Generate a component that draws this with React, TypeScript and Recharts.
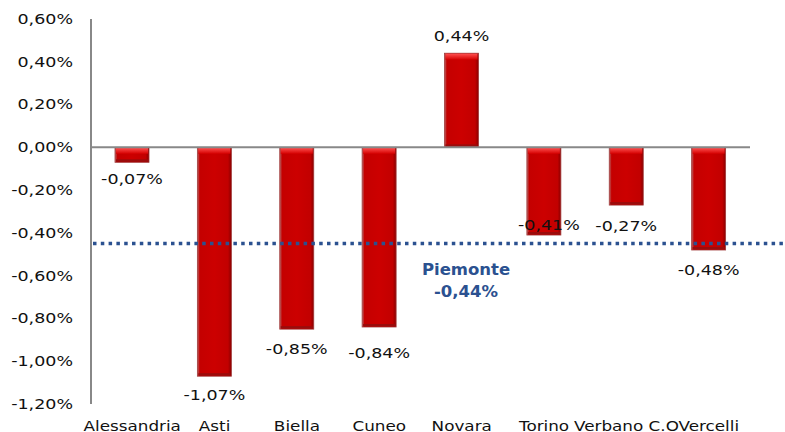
import React from 'react';
import { BarChart, Bar, XAxis, YAxis, ReferenceLine, LabelList } from 'recharts';

const provinces = ['Alessandria', 'Asti', 'Biella', 'Cuneo', 'Novara', 'Torino', 'Verbano C.O', 'Vercelli'];
const changes = [-0.07, -1.07, -0.85, -0.84, 0.44, -0.41, -0.27, -0.48];
const regionName = 'Piemonte';
const regionChange = -0.44;
const yTicks = [-1.2, -1.0, -0.8, -0.6, -0.4, -0.2, 0, 0.2, 0.4, 0.6];

const data = provinces.map((name, i) => ({ name, value: changes[i] }));

const FONT = '"DejaVu Sans", Verdana, sans-serif';
const SX = 1.25;
const fmt = (v: number) => v.toFixed(2).replace('.', ',') + '%';

// label gap below/above bar end (style nudges, per bar)
const labelGap = [17, 19, 20, 26, 17, -10, 21, 20];
const labelDx = [0, 0, 0, 0, 0, 5, 0, 0];

const STxt = ({ x, y, anchor, children, fill = '#111', size = 14, weight = 400, sx = SX, baseline = 'central' }: any) => (
  <text
    transform={`translate(${x},${y}) scale(${sx},1)`}
    x={0}
    y={0}
    textAnchor={anchor}
    dominantBaseline={baseline}
    fontFamily={FONT}
    fontSize={size}
    fontWeight={weight}
    fill={fill}
  >
    {children}
  </text>
);

const YTick = (props: any) => {
  const { x, y, payload } = props;
  return (
    <STxt x={x - 18} y={y} anchor="end">
      {fmt(payload.value)}
    </STxt>
  );
};

const XTick = (props: any) => {
  const { x, y, payload } = props;
  return (
    <STxt x={x} y={y + 27} anchor="middle" sx={1.2} baseline="alphabetic">
      {payload.value}
    </STxt>
  );
};

const BarShape = (props: any) => {
  const { x, y, width, height } = props;
  const top = Math.min(y, y + height);
  const h = Math.abs(height);
  const bottom = top + h;
  return (
    <g>
      <defs>
        <linearGradient id="barH" x1="0" y1="0" x2="1" y2="0">
          <stop offset="0%" stopColor="#b86a6a" />
          <stop offset="7%" stopColor="#c40000" />
          <stop offset="50%" stopColor="#cc0000" />
          <stop offset="90%" stopColor="#c20000" />
          <stop offset="100%" stopColor="#8a0000" />
        </linearGradient>
        <linearGradient id="barTop" x1="0" y1="0" x2="0" y2="1">
          <stop offset="0%" stopColor="#ff5050" />
          <stop offset="100%" stopColor="#d40000" />
        </linearGradient>
      </defs>
      <rect x={x} y={top} width={width} height={h} fill="url(#barH)" stroke="#a03a3a" strokeWidth={0.8} />
      <rect x={x + 1} y={top + 0.5} width={width - 2} height={Math.min(6, h)} fill="url(#barTop)" />
      {h > 4 && <rect x={x + 1} y={bottom - 3} width={width - 2} height={2.5} fill="#9a0c0c" />}
    </g>
  );
};

const DataLabel = (props: any) => {
  const { x, y, width, height, value, index } = props;
  const top = Math.min(y, y + height);
  const bottom = Math.max(y, y + height);
  const cx = x + width / 2 + labelDx[index];
  const cy = value >= 0 ? top - labelGap[index] : bottom + labelGap[index];
  return (
    <STxt x={cx} y={cy} anchor="middle">
      {fmt(value)}
    </STxt>
  );
};

const RegionLine = (props: any) => {
  const { x1, y1, y2 } = props;
  return (
    <line
      x1={x1 + 2}
      y1={y1 + 2}
      x2={785}
      y2={y2 + 2}
      stroke="#2b5190"
      strokeWidth={3.5}
      strokeDasharray="3.5 4.3"
    />
  );
};

const RegionLabel = (props: any) => {
  const { viewBox } = props;
  const cx = viewBox.x + 375;
  const cy = viewBox.y;
  return (
    <g>
      <STxt x={cx} y={cy + 28} anchor="middle" fill="#2b5190" size={15} weight={700} sx={1.1}>
        {regionName}
      </STxt>
      <STxt x={cx} y={cy + 50} anchor="middle" fill="#2b5190" size={15} weight={700} sx={1.1}>
        {fmt(regionChange)}
      </STxt>
    </g>
  );
};

export default function App() {
  return (
    <div style={{ position: 'absolute', left: 0, top: 0, width: 785, height: 432, background: '#fff' }}>
      <BarChart
        width={785}
        height={432}
        data={data}
        margin={{ top: 19, right: 35, bottom: 0, left: 0 }}
        barCategoryGap={0}
      >
        <YAxis
          width={91}
          domain={[-1.2, 0.6]}
          ticks={yTicks}
          interval={0}
          axisLine={{ stroke: '#888888', strokeWidth: 2 }}
          tickLine={false}
          tickSize={0}
          tickMargin={0}
          tick={<YTick />}
          allowDataOverflow
        />
        <XAxis
          dataKey="name"
          height={28}
          axisLine={false}
          tickLine={false}
          tickSize={0}
          tickMargin={0}
          interval={0}
          tick={<XTick />}
        />
        <Bar dataKey="value" barSize={34} shape={<BarShape />} isAnimationActive={false}>
          <LabelList dataKey="value" content={<DataLabel />} />
        </Bar>
        <ReferenceLine y={0} stroke="#888888" strokeWidth={2} />
        <ReferenceLine
          y={regionChange}
          shape={<RegionLine />}
          label={<RegionLabel />}
          ifOverflow="visible"
        />
      </BarChart>
    </div>
  );
}
